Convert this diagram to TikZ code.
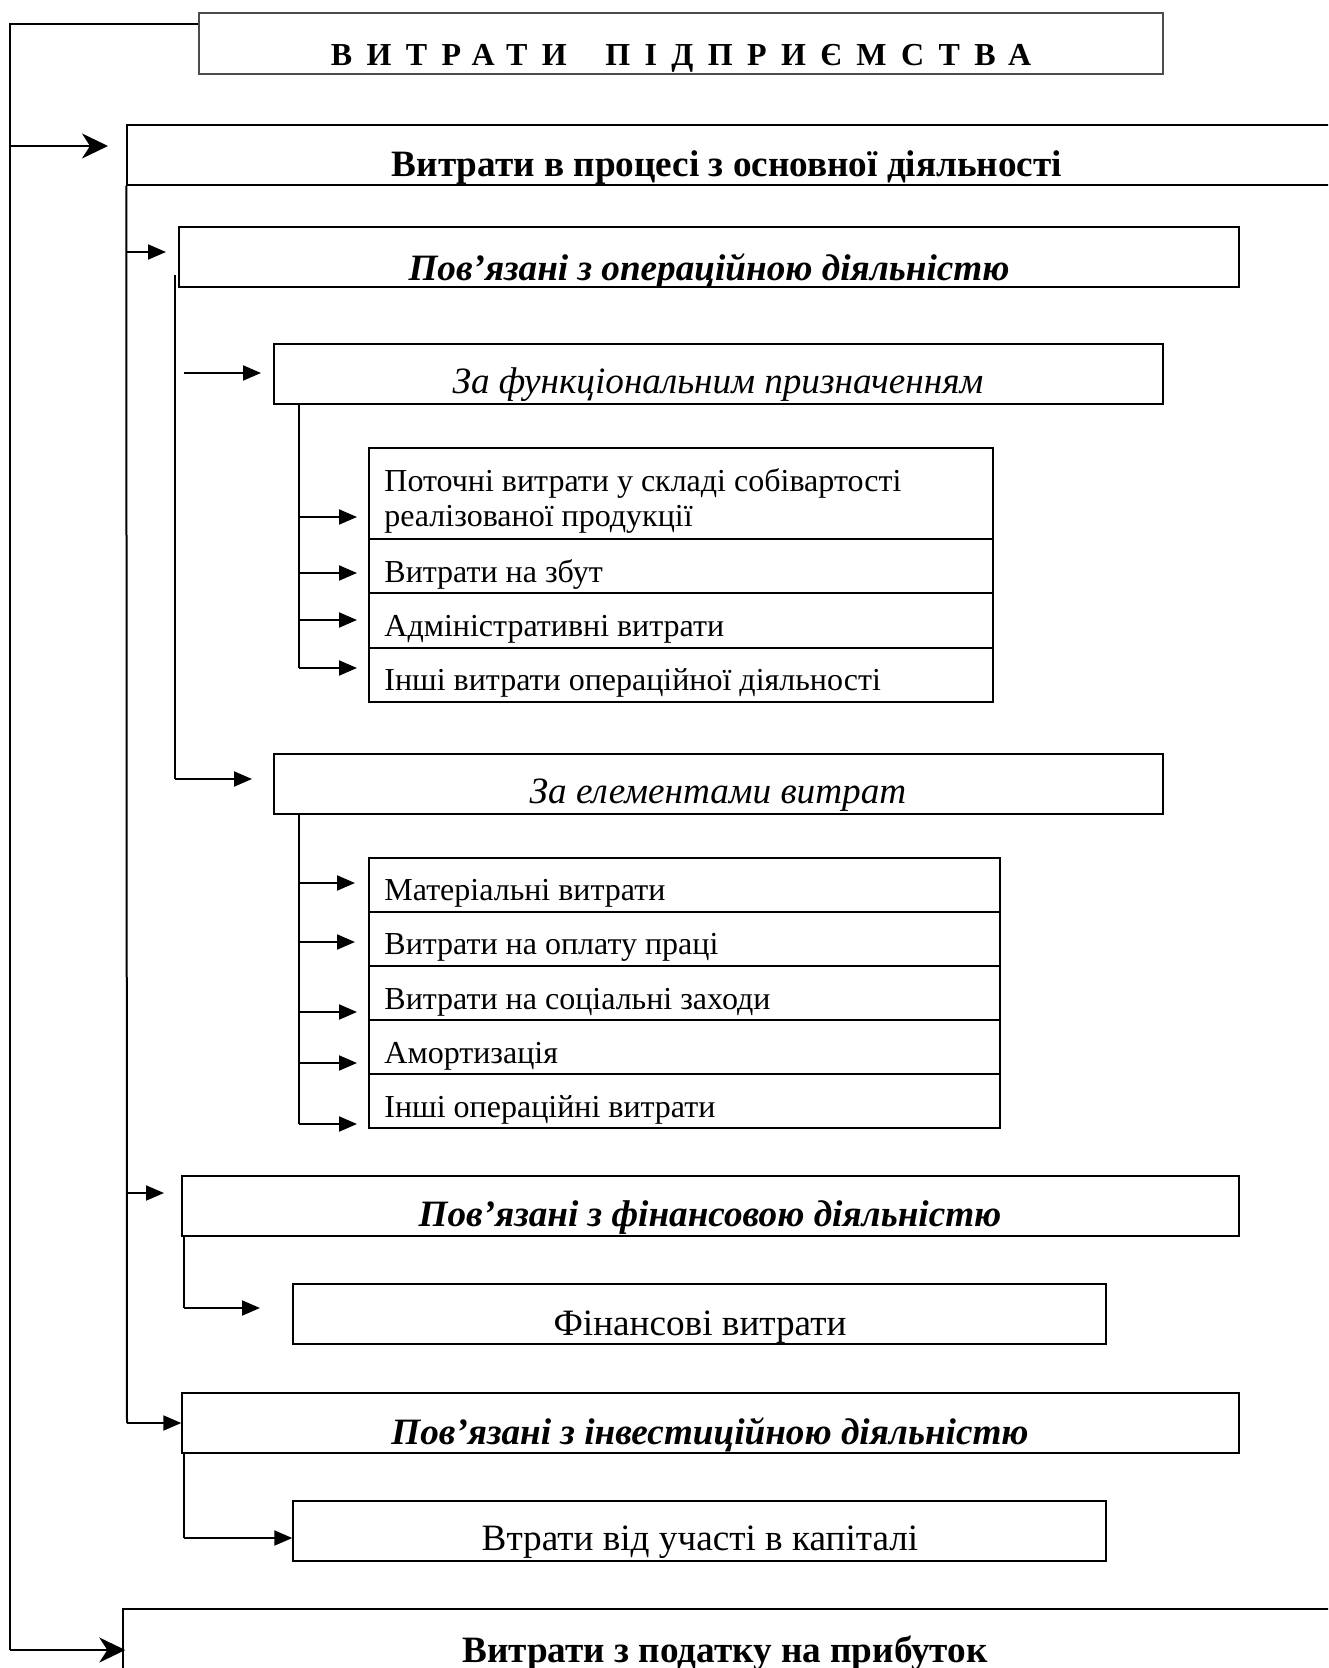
\documentclass[tikz,border=0pt]{standalone}
\usepackage{fontspec}
\setmainfont{Liberation Serif}
\usetikzlibrary{arrows.meta,fit}
\newcommand\hdsize{\fontsize{18.6}{22}\selectfont}
\tikzset{
  box/.style={draw, line width=0.7pt, inner sep=0pt},
  tbox/.style={draw=black!70, line width=0.7pt, inner sep=0pt},
  tbl/.style={draw, line width=1.1pt, inner sep=0pt},
  conn/.style={line width=1pt},
  arr/.style={conn, -{Triangle[length=9pt,width=7.5pt]}},
  bigarr/.style={conn, -{Stealth[length=13pt,width=12.5pt,inset=4pt]}},
  uline/.style={line width=0.9pt},
  txt/.style={anchor=base, inner sep=0pt},
  hdr/.style={txt, font=\hdsize},
  hdb/.style={txt, font=\hdsize\bfseries},
  hdi/.style={txt, font=\hdsize\itshape},
  hdbi/.style={txt, font=\hdsize\bfseries\itshape},
  rtxt/.style={anchor=base west, inner sep=0pt, font=\fontsize{16}{17.5}\selectfont},
}
\begin{document}
\begin{tikzpicture}[x=0.5pt,y=-0.5pt]
\useasboundingbox (0,0) rectangle (1328,1668);
\clip (0,0) rectangle (1328,1668);

% ---------- boxes ----------
\node[tbox, fit={(199,13) (1163,74)}] (title) {};
\node[box, fit={(127,125) (1360,185)}] (box2) {};
\node[box, fit={(179,227) (1239,287)}] (op) {};
\node[box, fit={(274,344) (1163,404)}] (func) {};
\node[tbl, fit={(369,448) (993,539)}] (r1) {};
\node[tbl, fit={(369,539) (993,593)}] (r2) {};
\node[tbl, fit={(369,593) (993,648)}] (r3) {};
\node[tbl, fit={(369,648) (993,702)}] (r4) {};
\node[box, fit={(274,754) (1163,814)}] (elem) {};
\node[tbl, fit={(369,858) (1000,912)}] (e1) {};
\node[tbl, fit={(369,912) (1000,966)}] (e2) {};
\node[tbl, fit={(369,966) (1000,1020)}] (e3) {};
\node[tbl, fit={(369,1020) (1000,1074)}] (e4) {};
\node[tbl, fit={(369,1074) (1000,1128)}] (e5) {};
\node[box, fit={(182,1176) (1239,1236)}] (fin) {};
\node[box, fit={(293,1284) (1106,1344)}] (finexp) {};
\node[box, fit={(182,1393) (1239,1453)}] (inv) {};
\node[box, fit={(293,1501) (1106,1561)}] (loss) {};
\node[box, fit={(123,1609) (1360,1720)}] (tax) {};

% ---------- texts ----------
\node[txt, font=\fontsize{16}{19}\selectfont\bfseries\addfontfeature{LetterSpace=45}] (ttitle) at (681,66) {ВИТРАТИ\hspace{1.2em}ПІДПРИЄМСТВА};
\node[hdb] (tbox2) at (727,177) {Витрати в процесі з основної діяльності};
\node[hdbi] (top) at (709,281) {Пов’язані з операційною діяльністю};
\draw[uline] ([yshift=-3pt]top.base west) -- ([yshift=-3pt]top.base east);
\node[hdi] (tfunc) at (718,394) {За функціональним призначенням};
\node[rtxt] (tr1) at (384,491) {\vtop{\hbox{Поточні витрати у складі собівартості}\hbox{реалізованої продукції}}};
\node[rtxt] (tr2) at (384,582) {Витрати на збут};
\node[rtxt] (tr3) at (384,636) {Адміністративні витрати};
\node[rtxt] (tr4) at (384,690) {Інші витрати операційної діяльності};
\node[hdi] (telem) at (718,803) {За елементами витрат};
\node[rtxt] (te1) at (384,900) {Матеріальні витрати};
\node[rtxt] (te2) at (384,954) {Витрати на оплату праці};
\node[rtxt] (te3) at (384,1009) {Витрати на соціальні заходи};
\node[rtxt] (te4) at (384,1063) {Амортизація};
\node[rtxt] (te5) at (384,1117) {Інші операційні витрати};
\node[hdbi] (tfin) at (710,1226) {Пов’язані з фінансовою діяльністю};
\node[hdr] (tfinexp) at (700,1335) {Фінансові витрати};
\node[hdbi] (tinv) at (710,1444) {Пов’язані з інвестиційною діяльністю};
\node[hdr] (tloss) at (700,1550) {Втрати від участі в капіталі};
\node[hdb] (ttax) at (725,1662) {Витрати з податку на прибуток};

% ---------- main spine ----------
\coordinate (m0) at (10,24);
\coordinate (m1) at (10,146);
\coordinate (m1t) at (108,146);
\coordinate (m2) at (10,1650);
\draw[conn] (title.west |- m0) -- (m0) -- (m2);
\draw[bigarr] (m1) -- (m1t);
\draw[bigarr] (m2) -- ([xshift=1.5pt]tax.west |- m2);

% ---------- spine of box2 ----------
\coordinate (s2) at (127,1423);
\coordinate (a1) at (127,252);  \coordinate (a1t) at (166,252);
\coordinate (a2) at (127,1193); \coordinate (a2t) at (164,1193);
\draw[conn] (box2.south west) -- (s2);
\draw[arr] (a1) -- (a1t);
\draw[arr] (a2) -- (a2t);
\draw[arr] (s2) -- (inv.west |- s2);

% ---------- spine of op ----------
\coordinate (s3a) at (175,275);
\coordinate (s3b) at (175,779);
\coordinate (s3t) at (252,779);
\coordinate (b1) at (184,373); \coordinate (b1t) at (261,373);
\draw[conn] (s3a) -- (s3b);
\draw[arr] (s3b) -- (s3t);
\draw[arr] (b1) -- (b1t);

% ---------- spine of func ----------
\coordinate (f0) at (299,404);
\coordinate (f1) at (299,517); \coordinate (f2) at (299,573);
\coordinate (f3) at (299,620); \coordinate (f4) at (299,668);
\draw[conn] (f0) -- (f4);
\draw[arr] (f1) -- ++(58,0) coordinate (f1t);
\draw[arr] (f2) -- ++(58,0) coordinate (f2t);
\draw[arr] (f3) -- ++(58,0) coordinate (f3t);
\draw[arr] (f4) -- ++(58,0) coordinate (f4t);

% ---------- spine of elem ----------
\coordinate (g0) at (299,814);
\coordinate (g1) at (299,883); \coordinate (g2) at (299,942);
\coordinate (g3) at (299,1012); \coordinate (g4) at (299,1063);
\coordinate (g5) at (299,1124);
\draw[conn] (g0) -- (g5);
\draw[arr] (g1) -- ++(56,0) coordinate (g1t);
\draw[arr] (g2) -- ++(56,0) coordinate (g2t);
\draw[arr] (g3) -- ++(58,0) coordinate (g3t);
\draw[arr] (g4) -- ++(58,0) coordinate (g4t);
\draw[arr] (g5) -- ++(58,0) coordinate (g5t);

% ---------- fin / inv ----------
\coordinate (h0) at (184,1236);
\coordinate (h1) at (184,1308); \coordinate (h1t) at (260,1308);
\draw[conn] (h0) -- (h1);
\draw[arr] (h1) -- (h1t);
\coordinate (k0) at (184,1453);
\coordinate (k1) at (184,1538);
\draw[conn] (k0) -- (k1);
\draw[arr] (k1) -- (loss.west |- k1);
\end{tikzpicture}
\end{document}
